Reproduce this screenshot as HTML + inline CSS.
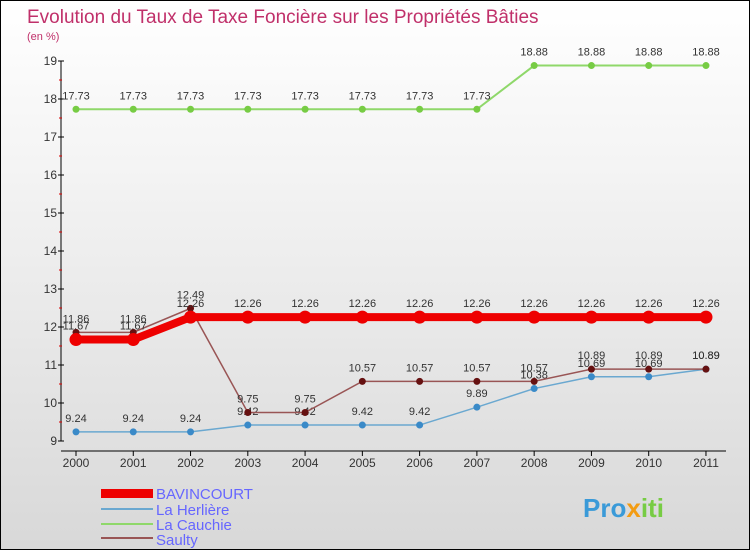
<!DOCTYPE html>
<html><head><meta charset="utf-8"><style>
body{margin:0}
#c{width:748px;height:548px;border:1px solid #000;background:linear-gradient(#fff,#f4f4f4 30%,#d8d8d8);position:relative;font-family:"Liberation Sans",sans-serif;overflow:hidden}
</style></head><body>
<div id="c">
<svg id="s" width="748" height="548" xmlns="http://www.w3.org/2000/svg">
<text x="26" y="22" font-size="19" fill="#c0306a">Evolution du Taux de Taxe Foncière sur les Propriétés Bâties</text>
<text x="26" y="39" font-size="11" fill="#c0306a">(en %)</text>
<g id="ax"></g><g id="series"></g>
<g>
<rect x="100" y="488" width="52" height="9" fill="#e00"/>
<text x="155" y="498" font-size="15" fill="#66f">BAVINCOURT</text>
<line x1="100" y1="508" x2="152" y2="508" stroke="#6aa8d0" stroke-width="2"/>
<text x="155" y="514" font-size="15" fill="#66f">La Herlière</text>
<line x1="100" y1="523" x2="152" y2="523" stroke="#8fd86a" stroke-width="2"/>
<text x="155" y="529" font-size="15" fill="#66f">La Cauchie</text>
<line x1="100" y1="537" x2="152" y2="537" stroke="#955" stroke-width="2"/>
<text x="155" y="544" font-size="15" fill="#66f">Saulty</text>
</g>
<text x="582" y="516" font-size="26" font-weight="bold" fill="#3a9ad8">Pro<tspan fill="#f39c12">x</tspan><tspan fill="#7c4">iti</tspan></text>
</svg></div>
<script>
const years=["2000","2001","2002","2003","2004","2005","2006","2007","2008","2009","2010","2011"];
const yTicks=[9,10,11,12,13,14,15,16,17,18,19];
const bavincourt=[11.67,11.67,12.26,12.26,12.26,12.26,12.26,12.26,12.26,12.26,12.26,12.26];
const herliere=[9.24,9.24,9.24,9.42,9.42,9.42,9.42,9.89,10.38,10.69,10.69,10.89];
const cauchie=[17.73,17.73,17.73,17.73,17.73,17.73,17.73,17.73,18.88,18.88,18.88,18.88];
const saulty=[11.86,11.86,12.49,9.75,9.75,10.57,10.57,10.57,10.57,10.89,10.89,10.89];
const NS="http://www.w3.org/2000/svg";
const X=i=>75+i*57.27, Y=v=>440-(v-9)*38;
function mk(t,a,p){const e=document.createElementNS(NS,t);for(const k in a)e.setAttribute(k,a[k]);p.appendChild(e);return e;}
const ax=document.getElementById('ax');
let l=mk('line',{x1:60,y1:Y(19),x2:60,y2:Y(9),stroke:'#000'},ax);


l=mk('line',{x1:60,y1:450,x2:725,y2:450,stroke:'#000'},ax);


yTicks.forEach(v=>{
 mk('line',{x1:57,y1:Y(v),x2:63,y2:Y(v),stroke:'#000'},ax);
 if(v<19)mk('line',{x1:58,y1:Y(v+0.5),x2:61,y2:Y(v+0.5),stroke:'#d00'},ax);
 const t=mk('text',{x:56,y:Y(v)+4,'font-size':12,fill:'#333','text-anchor':'end'},ax);t.textContent=v;
 
 
});
years.forEach((y,i)=>{
 mk('line',{x1:X(i),y1:450,x2:X(i),y2:455,stroke:'#000'},ax);
 const t=mk('text',{x:X(i),y:466,'font-size':12,fill:'#333','text-anchor':'middle'},ax);t.textContent=y;
 
 
});
const sg=document.getElementById('series');
function draw(d,name,col,w,r,dot){
 const g=mk('g',{},sg);
 
 
 const p=mk('polyline',{points:d.map((v,i)=>X(i)+','+Y(v)).join(' '),fill:'none',stroke:col,'stroke-width':w},g);
 
 
 d.forEach((v,i)=>{
  const c=mk('circle',{cx:X(i),cy:Y(v),r:r,fill:dot},g);
  
  
  const t=mk('text',{x:X(i),y:Y(v)-10,'font-size':11,fill:'#333','text-anchor':'middle'},g);t.textContent=v.toFixed(2);
  
  
 });
}
draw(cauchie,'la-cauchie','#8fd86a',2,3.5,'#7c4');
draw(herliere,'la-herliere','#6aa8d0',1.5,3.5,'#3a8ac8');
draw(saulty,'saulty','#955',1.5,3.5,'#611');
draw(bavincourt,'bavincourt','#e00',8,6.5,'#e00');
</script>
</body></html>
